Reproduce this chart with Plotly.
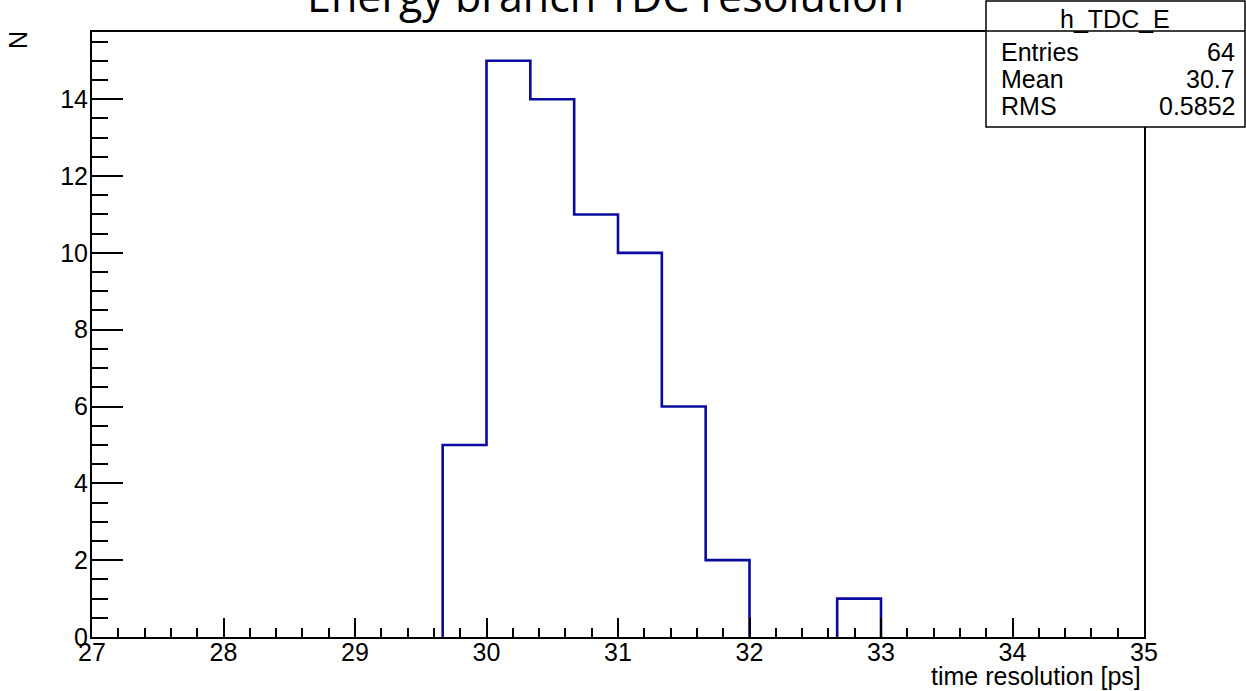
import numpy as np
import plotly.graph_objects as go

# Histogram h_TDC_E: 24 bins of 1/3 ps between 27 and 35 ps
bin_low = 27.0
bin_high = 35.0
n_bins = 24
counts = [0, 0, 0, 0, 0, 0, 0, 0,
          5, 15, 14, 11, 10, 6, 2, 0,
          0, 1, 0, 0, 0, 0, 0, 0]

stats_labels = ["Entries", "Mean", "RMS"]
stats_values = ["64", "30.7", "0.5852"]
hist_name = "h_TDC_E"

title_text = "Energy branch TDC resolution"
x_title = "time resolution [ps]"
y_title = "N"

W, H = 1246, 691
L, R, T, B = 92, 102, 32, 54
PW, PH = W - L - R, H - T - B

def px_x(px):
    return (px - L) / PW

def px_y(py):
    return (H - B - py) / PH

# Outline of the histogram; runs along the zero level are left out so the
# axis line stays black there.
edges = np.linspace(bin_low, bin_high, n_bins + 1)
step_x, step_y = [], []
for i, c in enumerate(counts):
    prev_c = counts[i - 1] if i > 0 else 0
    if c == 0 and prev_c == 0:
        continue
    if c > 0 and prev_c == 0:
        if step_x:
            step_x.append(None)
            step_y.append(None)
        step_x += [edges[i], edges[i]]
        step_y += [0, c]
    elif c > 0:
        step_x += [edges[i], edges[i]]
        step_y += [prev_c, c]
    else:
        step_x += [edges[i], edges[i]]
        step_y += [prev_c, 0]
        continue
    step_x.append(edges[i + 1])
    step_y.append(c)
if counts[-1] > 0:
    step_x.append(edges[-1])
    step_y.append(0)

blue = "#0a0a9e"
font_axis = "Liberation Sans, Arial, sans-serif"
fs = 25

fig = go.Figure()
fig.add_trace(go.Scatter(
    x=step_x, y=step_y, mode="lines",
    line=dict(color=blue, width=2.6), hoverinfo="skip", showlegend=False,
))

fig.update_layout(
    width=W, height=H,
    margin=dict(l=L, r=R, t=T, b=B, pad=0),
    paper_bgcolor="white", plot_bgcolor="white",
    showlegend=False,
)

fig.update_xaxes(
    range=[bin_low, bin_high], showgrid=False, zeroline=False,
    showline=True, linecolor="black", linewidth=2, mirror=True,
    ticks="inside", tickvals=list(range(27, 36)), ticklen=19, tickwidth=2,
    tickcolor="black", ticklabelstandoff=-8,
    minor=dict(dtick=0.2, tick0=27, ticks="inside", ticklen=9, tickwidth=2,
               tickcolor="black", showgrid=False),
    tickfont=dict(family=font_axis, size=fs, color="black"),
)
fig.update_yaxes(
    range=[0, 15.75], showgrid=False, zeroline=False,
    showline=True, linecolor="black", linewidth=2, mirror=True,
    ticks="inside", tickvals=list(range(0, 16, 2)), ticklen=31, tickwidth=2,
    tickcolor="black", ticklabelstandoff=-3,
    minor=dict(dtick=0.5, tick0=0, ticks="inside", ticklen=16, tickwidth=2,
               tickcolor="black", showgrid=False),
    tickfont=dict(family=font_axis, size=fs, color="black"),
)

annotations = [
    dict(text=title_text, x=px_x(605), y=px_y(-5), xref="paper", yref="paper",
         xanchor="center", yanchor="middle", showarrow=False,
         font=dict(family="Open Sans, sans-serif", size=43, color="black")),
    dict(text=x_title, x=px_x(1143), y=px_y(676), xref="paper", yref="paper",
         xanchor="right", yanchor="middle", showarrow=False,
         font=dict(family=font_axis, size=fs, color="black")),
    dict(text=y_title, x=px_x(18), y=px_y(40), xref="paper", yref="paper",
         xanchor="center", yanchor="middle", showarrow=False, textangle=-90,
         font=dict(family=font_axis, size=fs, color="black")),
    dict(text=hist_name, x=px_x(1115), y=px_y(19), xref="paper", yref="paper",
         xanchor="center", yanchor="middle", showarrow=False,
         font=dict(family=font_axis, size=fs, color="black")),
]
row_y = [52, 79, 106]
for lab, val, ry in zip(stats_labels, stats_values, row_y):
    annotations.append(dict(text=lab, x=px_x(999), y=px_y(ry), xref="paper",
                            yref="paper", xanchor="left", yanchor="middle",
                            showarrow=False,
                            font=dict(family=font_axis, size=fs, color="black")))
    annotations.append(dict(text=val, x=px_x(1237), y=px_y(ry), xref="paper",
                            yref="paper", xanchor="right", yanchor="middle",
                            showarrow=False,
                            font=dict(family=font_axis, size=fs, color="black")))
fig.update_layout(annotations=annotations)

# statistics box
fig.add_shape(type="rect", xref="paper", yref="paper",
              x0=px_x(986), x1=px_x(1245), y0=px_y(127), y1=px_y(1),
              line=dict(color="black", width=1.5), fillcolor="white", layer="above")
fig.add_shape(type="line", xref="paper", yref="paper",
              x0=px_x(986), x1=px_x(1245), y0=px_y(31), y1=px_y(31),
              line=dict(color="black", width=1.5), layer="above")

fig.write_html("out.html")
